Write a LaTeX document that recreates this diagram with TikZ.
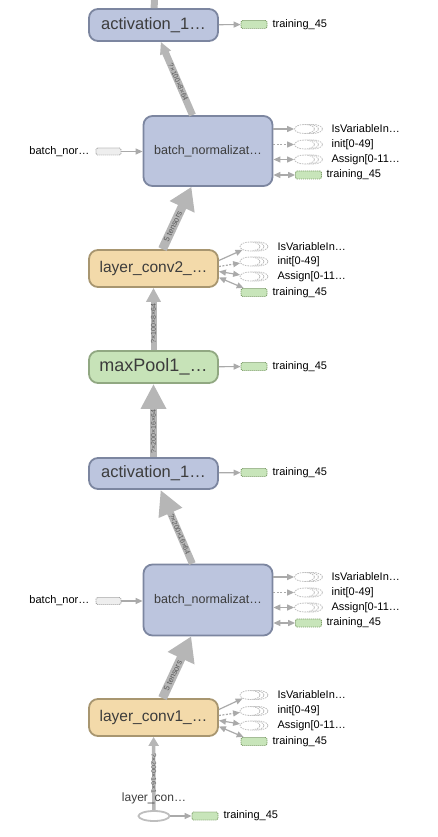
\documentclass[tikz,border=0pt]{standalone}
\usepackage{fontspec}
\setmainfont{Liberation Sans}
\usetikzlibrary{arrows.meta,positioning,shapes.geometric}
\definecolor{OpBlue}{RGB}{188,197,222}
\definecolor{OpBlueLine}{RGB}{124,134,160}
\definecolor{OpTan}{RGB}{243,218,170}
\definecolor{OpTanLine}{RGB}{168,150,112}
\definecolor{OpGreen}{RGB}{199,227,184}
\definecolor{OpGreenLine}{RGB}{145,168,130}
\definecolor{TrainFill}{RGB}{200,229,186}
\definecolor{TrainLine}{RGB}{128,160,108}
\definecolor{ConstFill}{RGB}{238,238,238}
\definecolor{ConstLine}{RGB}{165,165,165}
\definecolor{SerClr}{RGB}{190,190,190}
\definecolor{EdgeClr}{RGB}{182,182,182}
\definecolor{SideClr}{RGB}{170,170,170}
\definecolor{TextClr}{RGB}{60,60,60}
\definecolor{EdgeTxt}{RGB}{90,90,90}

\begin{document}
\begin{tikzpicture}[x=1pt,y=-1pt,
  op/.style={rounded corners=9pt, line width=1.8pt, minimum width=129pt, inner sep=0pt, text=TextClr},
  actop/.style={op, draw=OpBlueLine, fill=OpBlue, minimum height=32pt, font=\fontsize{16.5}{16.5}\selectfont},
  bnop/.style={op, draw=OpBlueLine, fill=OpBlue, minimum height=70pt, font=\fontsize{12.5}{12.5}\selectfont},
  convop/.style={op, draw=OpTanLine, fill=OpTan, minimum height=37pt, font=\fontsize{15.5}{15.5}\selectfont},
  poolop/.style={op, draw=OpGreenLine, fill=OpGreen, minimum height=32pt, font=\fontsize{18}{18}\selectfont},
  trainbox/.style={draw=TrainLine, fill=TrainFill, dash pattern=on 1.2pt off 0.8pt, line width=0.8pt,
    rounded corners=1.5pt, minimum width=26pt, minimum height=8pt, inner sep=0pt},
  constbox/.style={trainbox, draw=ConstLine, fill=ConstFill, minimum width=25pt, minimum height=7pt},
  series/.style={ellipse, draw=SerClr, dash pattern=on 1.5pt off 1pt, line width=0.8pt, fill=white,
    minimum width=20pt, minimum height=9pt, inner sep=0pt,
    preaction={draw=SerClr, dash pattern=on 1.5pt off 1pt, line width=0.8pt, fill=white, transform canvas={xshift=8pt}},
    preaction={draw=SerClr, dash pattern=on 1.5pt off 1pt, line width=0.8pt, fill=white, transform canvas={xshift=4pt}}},
  inputell/.style={ellipse, draw=SerClr, line width=1.8pt, fill=white, minimum width=31pt, minimum height=10pt, inner sep=0pt},
  sidetext/.style={inner sep=0pt, anchor=west, font=\fontsize{11}{11}\selectfont},
  elabel/.style={sloped, inner sep=0pt, font=\fontsize{7}{7}\selectfont, text=EdgeTxt},
  flow/.style={draw=EdgeClr, line width=#1},
  side/.style={draw=SideClr, line width=1.2pt, -{Triangle[length=7pt,width=6pt]}},
  sideboth/.style={side, {Triangle[length=7pt,width=6pt]}-{Triangle[length=7pt,width=6pt]}},
  sidedash/.style={side, dash pattern=on 2pt off 1.5pt}]
\useasboundingbox (0,0) rectangle (438,837);

\node[actop] (act2) at (153.5,25) {activation\_1\dots};
\node[bnop] (bn2) at (208,151) {batch\_normalizat\dots};
\node[convop] (conv2) at (153.5,268.5) {layer\_conv2\_\dots};
\node[poolop] (pool1) at (153.5,367) {maxPool1\_\dots};
\node[actop, minimum height=31pt] (act1) at (153.5,473.5) {activation\_1\dots};
\node[bnop, minimum height=71pt] (bn1) at (208,600) {batch\_normalizat\dots};
\node[convop] (conv1) at (153.5,717.5) {layer\_conv1\_\dots};
\node[inputell] (inp) at (154,816) {};

\coordinate (up) at (154.5,-2);
\draw[flow=7pt] (act2) -- (up);
\draw[flow=7pt, -{Triangle[length=12pt,width=11pt]}] (bn2) -- node[elabel, pos=0.45] {?×100×8×64} (act2);
\draw[flow=9pt, -{Triangle[length=22pt,width=26pt]}] (conv2) -- node[elabel, pos=0.36, font=\fontsize{8}{8}\selectfont] {5 tensors} (bn2);
\draw[flow=6pt, -{Triangle[length=14pt,width=14pt]}] (pool1) -- node[elabel, pos=0.43] {?×100×8×64} (conv2);
\draw[flow=7pt, -{Triangle[length=25pt,width=24pt]}] (act1) -- node[elabel, pos=0.35] {?×200×16×64} (pool1);
\draw[flow=7pt, -{Triangle[length=25pt,width=24pt]}] (bn1) -- node[elabel, pos=0.4] {?×200×16×64} (act1);
\draw[flow=9pt, -{Triangle[length=24pt,width=28pt]}] (conv1) -- node[elabel, pos=0.36, font=\fontsize{8}{8}\selectfont] {5 tensors} (bn1);
\draw[flow=3.5pt, -{Triangle[length=9pt,width=10pt]}] (inp) -- node[elabel, pos=0.5] {?×200×16×1} (conv1);
\node[inner sep=0pt, text=TextClr, font=\fontsize{12}{12}\selectfont] (inplab) at (154,798) {layer\_con\dots};

\node[trainbox] (tb1) at (254,24.5) {};
\node[sidetext, right=5pt of tb1] (tt1) {training\_45};
\draw[side] (act2) -- (tb1);

\node[constbox] (cb2) at (108.5,151.5) {};
\node[sidetext, anchor=east, left=6pt of cb2] (ct2) {batch\_nor\dots};
\draw[side] (cb2) -- (bn2.west |- cb2);
\node[series] (iv2) at (304.5,129) {};
\node[series] (in2) at (304.5,144.5) {};
\node[series] (as2) at (304.5,159.5) {};
\node[trainbox] (tb2) at (308.5,175) {};
\node[sidetext, right=16.5pt of iv2] (ivt2) {IsVariableIn\dots};
\node[sidetext, right=16.5pt of in2] (int2) {init[0-49]};
\node[sidetext, right=16.5pt of as2] (ast2) {Assign[0-11\dots};
\node[sidetext, right=4.5pt of tb2] (tt2) {training\_45};
\draw[side] (bn2.east |- iv2) -- (iv2);
\draw[sidedash] (bn2.east |- in2) -- (in2);
\draw[sideboth] (bn2.east |- as2) -- (as2);
\draw[sideboth] (bn2.east |- tb2) -- (tb2);

\node[series] (iv3) at (250,246.5) {};
\node[series] (in3) at (250,261.5) {};
\node[series] (as3) at (250,276.5) {};
\node[trainbox] (tb3) at (254,292.5) {};
\node[sidetext, right=17pt of iv3] (ivt3) {IsVariableIn\dots};
\node[sidetext, right=17pt of in3] (int3) {init[0-49]};
\node[sidetext, right=17pt of as3] (ast3) {Assign[0-11\dots};
\node[sidetext, right=5pt of tb3] (tt3) {training\_45};
\draw[side] ([yshift=8pt]conv2.east) -- (iv3);
\draw[sidedash] ([yshift=2pt]conv2.east) -- (in3);
\draw[sideboth] ([yshift=-3pt]conv2.east) -- (as3);
\draw[sideboth] ([yshift=-9pt]conv2.east) -- (tb3);

\node[trainbox] (tb4) at (254,366.5) {};
\node[sidetext, right=5pt of tb4] (tt4) {training\_45};
\draw[side] (pool1) -- (tb4);

\node[trainbox] (tb5) at (254,472.5) {};
\node[sidetext, right=5pt of tb5] (tt5) {training\_45};
\draw[side] (act1) -- (tb5);

\node[constbox] (cb6) at (108.5,601) {};
\node[sidetext, anchor=east, left=6pt of cb6] (ct6) {batch\_nor\dots};
\draw[side] (cb6) -- (bn1.west |- cb6);
\node[series] (iv6) at (304.5,577) {};
\node[series] (in6) at (304.5,592.5) {};
\node[series] (as6) at (304.5,607.5) {};
\node[trainbox] (tb6) at (308.5,623) {};
\node[sidetext, right=16.5pt of iv6] (ivt6) {IsVariableIn\dots};
\node[sidetext, right=16.5pt of in6] (int6) {init[0-49]};
\node[sidetext, right=16.5pt of as6] (ast6) {Assign[0-11\dots};
\node[sidetext, right=4.5pt of tb6] (tt6) {training\_45};
\draw[side] (bn1.east |- iv6) -- (iv6);
\draw[sidedash] (bn1.east |- in6) -- (in6);
\draw[sideboth] (bn1.east |- as6) -- (as6);
\draw[sideboth] (bn1.east |- tb6) -- (tb6);

\node[series] (iv7) at (250,695) {};
\node[series] (in7) at (250,711) {};
\node[series] (as7) at (250,725.5) {};
\node[trainbox] (tb7) at (254,741.5) {};
\node[sidetext, right=17pt of iv7] (ivt7) {IsVariableIn\dots};
\node[sidetext, right=17pt of in7] (int7) {init[0-49]};
\node[sidetext, right=17pt of as7] (ast7) {Assign[0-11\dots};
\node[sidetext, right=5pt of tb7] (tt7) {training\_45};
\draw[side] ([yshift=8pt]conv1.east) -- (iv7);
\draw[sidedash] ([yshift=2pt]conv1.east) -- (in7);
\draw[sideboth] ([yshift=-3pt]conv1.east) -- (as7);
\draw[sideboth] ([yshift=-9pt]conv1.east) -- (tb7);

\node[trainbox] (tb8) at (205,816) {};
\node[sidetext, right=5pt of tb8] (tt8) {training\_45};
\draw[side] (inp) -- (tb8);
\end{tikzpicture}
\end{document}
